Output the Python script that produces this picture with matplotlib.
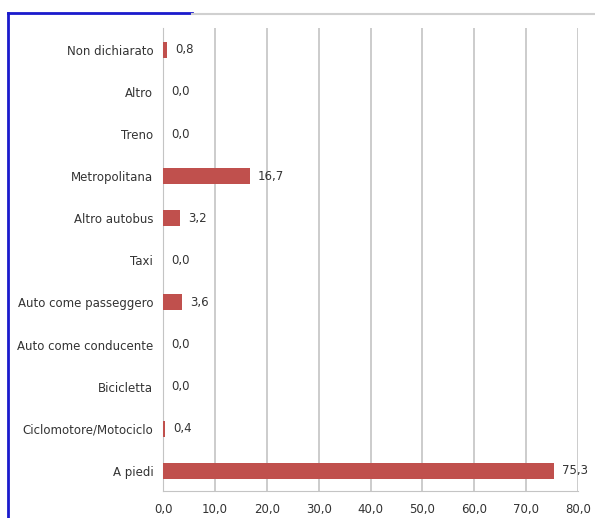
import matplotlib
matplotlib.use("Agg")
import matplotlib.pyplot as plt
from matplotlib.lines import Line2D

categories = ["A piedi", "Ciclomotore/Motociclo", "Bicicletta", "Auto come conducente",
              "Auto come passeggero", "Taxi", "Altro autobus", "Metropolitana",
              "Treno", "Altro", "Non dichiarato"]
values = [75.3, 0.4, 0.0, 0.0, 3.6, 0.0, 3.2, 16.7, 0.0, 0.0, 0.8]
xticks = [0, 10, 20, 30, 40, 50, 60, 70, 80]

W, H = 595, 518
fig = plt.figure(figsize=(W / 100, H / 100), dpi=100)
ax = fig.add_axes([163 / W, 1 - 491 / H, (578 - 163) / W, (491 - 28) / H])

txt = "#333333"
fs = 8.5
pos = list(range(len(categories)))
ax.barh(pos, values, height=0.38, color="#c0504d", zorder=3)
for p, v in zip(pos, values):
    ax.text(v + 1.6, p, f"{v:.1f}".replace(".", ","), va="center", ha="left",
            fontsize=fs, color=txt)

ax.set_xlim(0, 80)
ax.set_ylim(-0.48, 10.52)
ax.set_xticks(xticks)
ax.set_xticklabels([f"{t:.1f}".replace(".", ",") for t in xticks], fontsize=fs, color=txt)
ax.set_yticks(pos)
ax.set_yticklabels(categories, fontsize=fs, color=txt)
ax.tick_params(axis="both", length=0)
ax.tick_params(axis="y", pad=7)
ax.tick_params(axis="x", pad=9)
ax.grid(axis="x", color="#c4c4c4", linewidth=1.2, zorder=0)
ax.grid(axis="y", visible=False)
ax.spines["top"].set_visible(False)
ax.spines["right"].set_visible(False)
ax.spines["left"].set_color("#c4c4c4")
ax.spines["bottom"].set_color("#c4c4c4")

# outer frame
fig.add_artist(Line2D([8 / W, 8 / W], [0, 1 - 13 / H], color="#1a1acc", linewidth=2,
                      transform=fig.transFigure))
fig.add_artist(Line2D([8 / W, 192 / W], [1 - 13 / H, 1 - 13 / H], color="#1a1acc",
                      linewidth=2, transform=fig.transFigure))
fig.add_artist(Line2D([192 / W, 1], [1 - 14 / H, 1 - 14 / H], color="#d0d0d0",
                      linewidth=1.5, transform=fig.transFigure))

fig.savefig("out.png", dpi=100)
